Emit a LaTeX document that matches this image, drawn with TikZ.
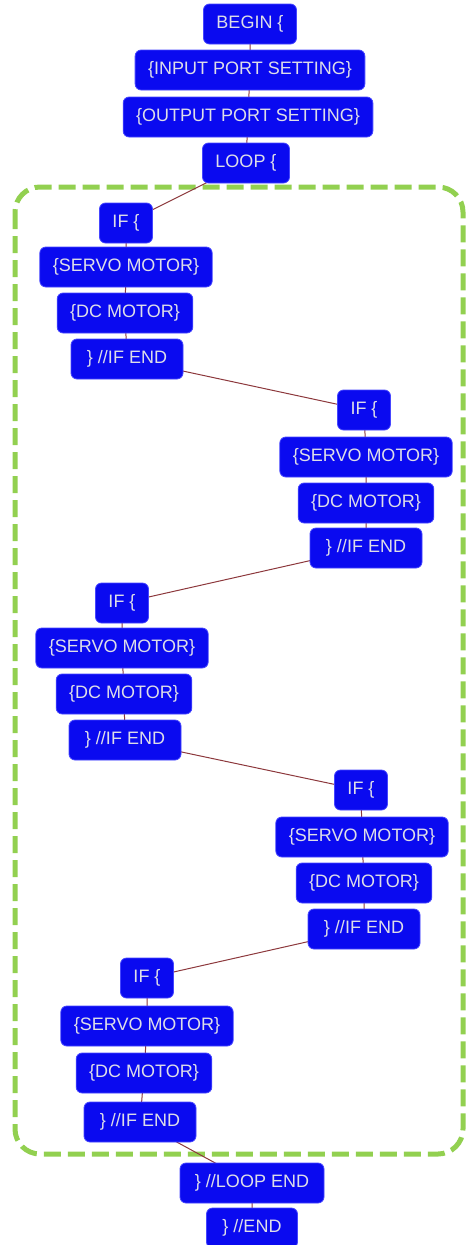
\documentclass[tikz,border=0pt]{standalone}
\usepackage{fontspec}
\setmainfont{Liberation Sans}
\usetikzlibrary{backgrounds}
\definecolor{boxblue}{RGB}{10,10,240}
\definecolor{boxedge}{RGB}{70,70,255}
\definecolor{boxtext}{RGB}{222,222,232}
\definecolor{linkred}{RGB}{140,56,60}
\definecolor{framegreen}{RGB}{146,208,80}
\tikzset{
  codebox/.style={draw=boxedge, line width=0.8pt, fill=boxblue, text=boxtext,
    rounded corners=6pt, minimum height=40pt, inner xsep=13pt, inner ysep=0pt,
    font=\fontsize{18}{20}\selectfont},
  endbox/.style={codebox, minimum width=112pt},
  link/.style={draw=linkred, line width=1pt},
  loopframe/.style={draw=framegreen, line width=5pt, rounded corners=25pt,
    dash pattern=on 17pt off 7pt}
}
\begin{document}
\begin{tikzpicture}[x=1pt,y=-1pt]
\useasboundingbox (0,0) rectangle (466,1245);
\clip (0,0) rectangle (466,1245);
\node[codebox] (n1) at (250,24) {BEGIN \{};
\node[codebox] (n2) at (250,70) {\{INPUT PORT SETTING\}};
\node[codebox] (n3) at (248,117) {\{OUTPUT PORT SETTING\}};
\node[codebox] (n4) at (246,163) {LOOP \{};
\node[codebox] (a1) at (126,223) {IF \{};
\node[codebox] (a2) at (126,267) {\{SERVO MOTOR\}};
\node[codebox] (a3) at (125,313) {\{DC MOTOR\}};
\node[endbox] (a4) at (127,359) {\} //IF END};
\node[codebox] (b1) at (364,410) {IF \{};
\node[codebox] (b2) at (366,457) {\{SERVO MOTOR\}};
\node[codebox] (b3) at (366,503) {\{DC MOTOR\}};
\node[endbox] (b4) at (366,548) {\} //IF END};
\node[codebox] (c1) at (122,603) {IF \{};
\node[codebox] (c2) at (122,648) {\{SERVO MOTOR\}};
\node[codebox] (c3) at (124,694) {\{DC MOTOR\}};
\node[endbox] (c4) at (125,740) {\} //IF END};
\node[codebox] (d1) at (361,790) {IF \{};
\node[codebox] (d2) at (362,837) {\{SERVO MOTOR\}};
\node[codebox] (d3) at (364,883) {\{DC MOTOR\}};
\node[endbox] (d4) at (364,929) {\} //IF END};
\node[codebox] (e1) at (147,978) {IF \{};
\node[codebox] (e2) at (147,1026) {\{SERVO MOTOR\}};
\node[codebox] (e3) at (144,1073) {\{DC MOTOR\}};
\node[endbox] (e4) at (140,1122) {\} //IF END};
\node[codebox, minimum width=144pt] (f1) at (252,1183) {\} //LOOP END};
\node[codebox, minimum width=91pt] (f2) at (252,1228) {\} //END};
\begin{scope}[on background layer]
\draw[loopframe] (15,187) rectangle (463,1154);
\draw[link] (n1.center) -- (n2.center) -- (n3.center) -- (n4.center) -- (a1.center)
  -- (a2.center) -- (a3.center) -- (a4.center) -- (b1.center)
  -- (b2.center) -- (b3.center) -- (b4.center) -- (c1.center)
  -- (c2.center) -- (c3.center) -- (c4.center) -- (d1.center)
  -- (d2.center) -- (d3.center) -- (d4.center) -- (e1.center)
  -- (e2.center) -- (e3.center) -- (e4.center) -- (f1.center) -- (f2.center);
\end{scope}
\end{tikzpicture}
\end{document}
